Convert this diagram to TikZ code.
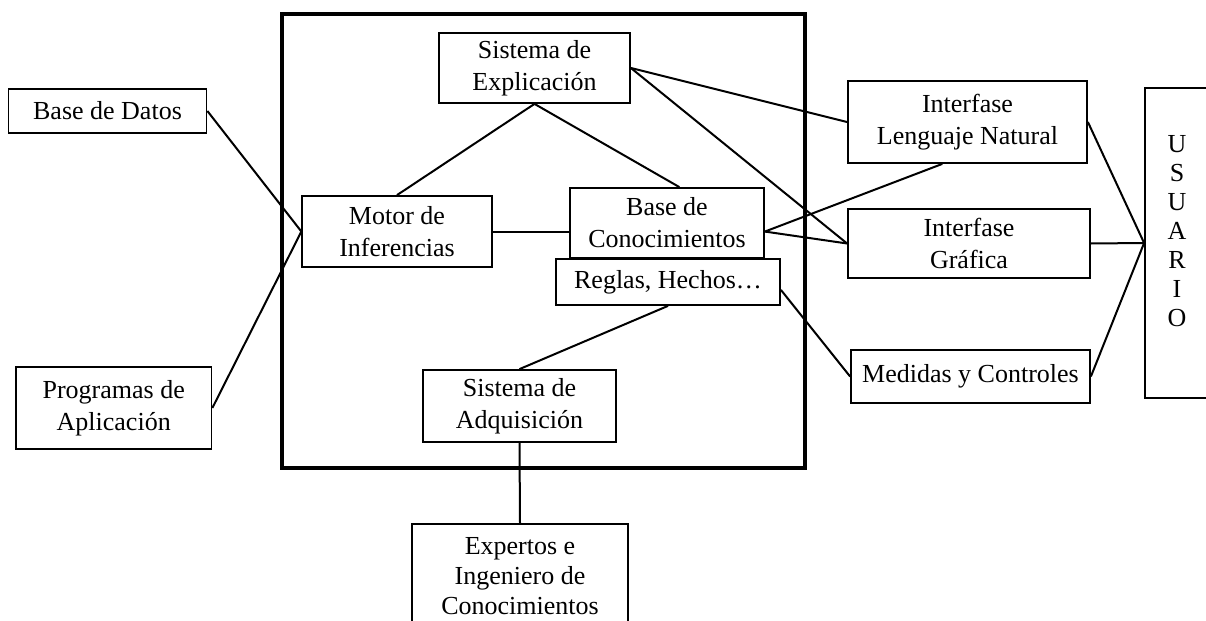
\documentclass[tikz,border=0pt]{standalone}
\usepackage{fontspec}
\setmainfont{Liberation Serif}
\usetikzlibrary{calc}
\begin{document}
\begin{tikzpicture}[x=0.5pt,y=-0.5pt,
  box/.style={draw, fill=white, line width=0.9pt, align=center, inner sep=0pt, font=\fontsize{13}{16}\selectfont},
  link/.style={line width=1pt},
  txt/.style={align=center, inner sep=0pt, font=\fontsize{13}{14.5}\selectfont}]
\useasboundingbox[fill=white] (0,0) rectangle (1206,621);
% main frame
\node[draw, line width=1.6pt, minimum width=261.5pt, minimum height=227pt, inner sep=0pt] (core) at (543.5,241) {};
% boxes
\node[box, minimum width=95.5pt, minimum height=35pt] (expl) at (534.5,68) {Sistema de\\Explicación};
\node[box, minimum width=99pt, minimum height=22pt] (bd) at (107.5,111) {Base de Datos};
\node[box, minimum width=94.75pt, minimum height=35.5pt] (motor) at (397,231.5) {Motor de\\Inferencias};
\node[box, minimum width=97pt, minimum height=35pt] (bc) at (667,223) {Base de\\Conocimientos};
\node[box, minimum width=112pt, minimum height=23pt] (reglas) at (668,282) {Reglas, Hechos\ldots};
\node[box, minimum width=97.75pt, minimum height=41pt] (prog) at (113.7,408) {Programas de\\Aplicación};
\node[box, minimum width=96.5pt, minimum height=36pt] (adq) at (519.5,406) {Sistema de\\Adquisición};
\node[box, minimum width=108pt, minimum height=52.5pt, font=\fontsize{13}{15}\selectfont] (exp) at (520,576.5) {Expertos e\\Ingeniero de\\Conocimientos};
\node[box, minimum width=119.5pt, minimum height=41pt] (iln) at (967.5,122) {Interfase\\Lenguaje Natural};
\node[box, minimum width=121pt, minimum height=34.5pt] (ig) at (969,243.5) {Interfase\\Gráfica};
\node[box, minimum width=119.5pt, minimum height=26.5pt] (med) at (970.5,376.5) {Medidas y Controles};
\node[box, minimum width=35pt, minimum height=155pt] (usu) at (1180,243) {};
\node[txt] (usutext) at (1177,231) {U\\S\\U\\A\\R\\I\\O};
% connectors
\draw[link] (expl.south) -- (motor.north);
\draw[link] (expl.south) -- (bc.71);
\draw[link] (bd.east) -- (motor.west);
\draw[link] (prog.east) -- (motor.west);
\draw[link] (motor.east) -- (motor.east -| bc.west);
\draw[link] (expl.east) -- (iln.west);
\draw[link] (expl.east) -- (ig.west);
\draw[link] (bc.-5) -- (iln.239);
\draw[link] (bc.-5) -- (ig.west);
\draw[link] (iln.east) -- (usu.west);
\draw[link] (ig.east) -- (usu.west);
\draw[link] (med.east) -- (usu.west);
\draw[link] (reglas.-4) -- (med.west);
\draw[link] (adq.north) -- (reglas.south);
\draw[link] (adq.south) -- (exp.north);
\end{tikzpicture}
\end{document}
